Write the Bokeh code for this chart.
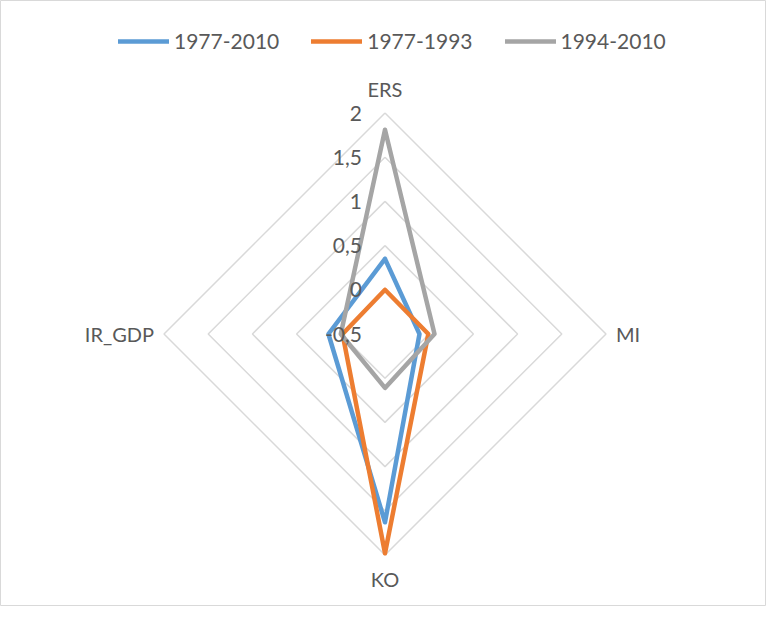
import numpy as np
from bokeh.plotting import figure
from bokeh.models import Range1d, Legend, LegendItem, ColumnDataSource
from bokeh.embed import file_html
from bokeh.resources import INLINE
from bokeh.core.properties import value

# ---- data ----
categories = ["ERS", "MI", "KO", "IR_GDP"]
series_names = ["1977-2010", "1977-1993", "1994-2010"]
s_1977_2010 = [0.35, -0.11, 1.63, 0.14]
s_1977_1993 = [0.0, -0.01, 1.98, -0.02]
s_1994_2010 = [1.81, 0.06, 0.11, 0.0]
ticks = [-0.5, 0, 0.5, 1, 1.5, 2]
tick_labels = ["-0,5", "0", "0,5", "1", "1,5", "2"]
colors = ["#5B9BD5", "#ED7D31", "#A5A5A5"]

FONT = "Lato"
TXT = "#595959"

W, H = 766, 606
CX, CY = 384.5, 333.5   # radar centre in figure pixels
PXU = 88.4              # pixels per value unit

rmin = ticks[0]
rmax = ticks[-1] - rmin
angles = np.pi / 2 - np.arange(len(categories)) * np.pi / 2

p = figure(width=W, height=H,
           x_range=Range1d(-CX / PXU, (W - CX) / PXU),
           y_range=Range1d(-(H - CY) / PXU, CY / PXU),
           x_axis_type=None, y_axis_type=None,
           output_backend="svg", toolbar_location=None, min_border=0)
p.outline_line_color = "#D9D9D9"
p.outline_line_width = 1
p.background_fill_color = "white"

# grid diamonds
for t in ticks[1:]:
    r = t - rmin
    xs = list(r * np.cos(angles)) + [r * np.cos(angles[0])]
    ys = list(r * np.sin(angles)) + [r * np.sin(angles[0])]
    p.line(xs, ys, line_color="#D9D9D9", line_width=1.5)

# series
renderers = []
for name, vals, col in zip(series_names, [s_1977_2010, s_1977_1993, s_1994_2010], colors):
    rr = np.array(vals) - rmin
    xs = list(rr * np.cos(angles)) + [rr[0] * np.cos(angles[0])]
    ys = list(rr * np.sin(angles)) + [rr[0] * np.sin(angles[0])]
    r = p.line(xs, ys, line_color=col, line_width=4.5, line_join="round", line_cap="round")
    renderers.append(r)

# tick labels along the ERS axis
p.text(x=[0] * len(ticks), y=[t - rmin for t in ticks], text=tick_labels,
       x_offset=-23, text_align="right", text_baseline="middle",
       text_font=value(FONT), text_font_size="21px", text_color=TXT)

# category labels
src = ColumnDataSource(dict(
    x=list(rmax * np.cos(angles)),
    y=list(rmax * np.sin(angles)),
    text=categories,
    xo=[0, 10, 0, -10],
    yo=[-24, 0, 24, 0],
    align=["center", "left", "center", "right"],
))
p.text(x="x", y="y", text="text", x_offset="xo", y_offset="yo", text_align="align",
       text_baseline="middle", text_font=value(FONT), text_font_size="20px",
       text_color=TXT, source=src)

legend = Legend(items=[LegendItem(label=n, renderers=[r]) for n, r in zip(series_names, renderers)],
                orientation="horizontal", location=(118, 553),
                glyph_width=51, glyph_height=20, label_standoff=5, spacing=32,
                padding=0, margin=0, border_line_alpha=0, background_fill_alpha=0,
                label_text_font=FONT, label_text_font_size="21px", label_text_color=TXT)
p.add_layout(legend)

open("out.html", "w").write(file_html(p, INLINE))
